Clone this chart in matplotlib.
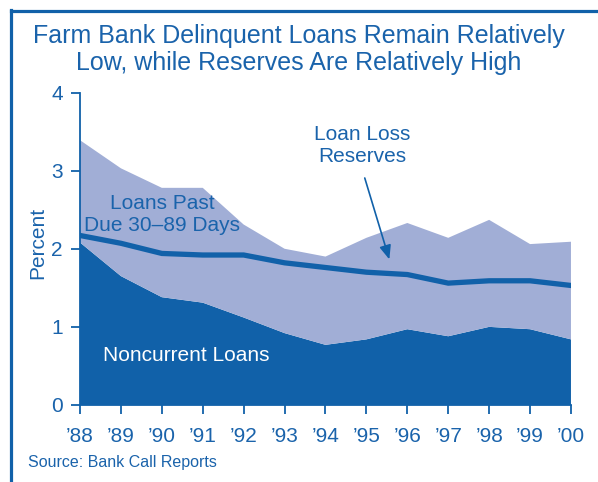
import numpy as np
import matplotlib.pyplot as plt
from matplotlib.lines import Line2D

plt.rcParams['font.family'] = ['Liberation Sans', 'DejaVu Sans']

years = ["\u201988", "\u201989", "\u201990", "\u201991", "\u201992", "\u201993", "\u201994",
         "\u201995", "\u201996", "\u201997", "\u201998", "\u201999", "\u201900"]
noncurrent = [2.08, 1.65, 1.38, 1.31, 1.12, 0.92, 0.77, 0.84, 0.97, 0.88, 1.00, 0.97, 0.84]
total_delinquent = [3.39, 3.03, 2.78, 2.78, 2.31, 2.00, 1.90, 2.14, 2.33, 2.14, 2.37, 2.06, 2.09]
past_due = [t - n for t, n in zip(total_delinquent, noncurrent)]
reserves = [2.17, 2.07, 1.94, 1.92, 1.92, 1.82, 1.76, 1.70, 1.67, 1.56, 1.59, 1.59, 1.53]

dark = '#1161a9'
light = '#a1aed6'
txt = '#1a63ab'

fig = plt.figure(figsize=(5.98, 4.82), dpi=100)
ax = fig.add_axes([0.1338, 0.1598, 0.8210, 0.6482])

x = np.arange(len(years))
ax.stackplot(x, noncurrent, past_due, colors=[dark, light], linewidth=0)
ax.plot(x, reserves, color=dark, lw=3.8, solid_joinstyle='miter')

ax.set_xlim(0, len(years) - 1)
ax.set_ylim(0, 4)
ax.set_xticks(x)
ax.set_xticklabels(years)
ax.set_yticks([0, 1, 2, 3, 4])
for s in ['top', 'right']:
    ax.spines[s].set_visible(False)
for s in ['left', 'bottom']:
    ax.spines[s].set_color(dark)
    ax.spines[s].set_linewidth(1.3)
ax.tick_params(colors=dark, labelcolor=txt, labelsize=15, length=6.5, width=1.3)
ax.tick_params(axis='x', pad=9)
ax.tick_params(axis='y', pad=6)
fig.text(37.5 / 598, 1 - 243 / 482, 'Percent', rotation=90, fontsize=15, color=txt,
         ha='center', va='center')

ax.text(2.6, 0.63, 'Noncurrent Loans', color='white', fontsize=15, ha='center', va='center')
ax.text(2.0, 2.44, 'Loans Past\nDue 30\u201389 Days', color=txt, fontsize=15,
        ha='center', va='center', linespacing=1.2)
ax.text(6.9, 3.32, 'Loan Loss\nReserves', color=txt, fontsize=15,
        ha='center', va='center', linespacing=1.2)
ax.annotate('', xy=(7.58, 1.83), xytext=(6.94, 2.94),
            arrowprops=dict(arrowstyle='-|>,head_length=0.6,head_width=0.25', color=dark,
                            lw=1.2, mutation_scale=14))

# two-line title, each line placed on its own baseline
fig.text(0.5, 1 - 42.5 / 482, 'Farm Bank Delinquent Loans Remain Relatively',
         color=txt, fontsize=18, ha='center', va='baseline')
fig.text(0.5, 1 - 70 / 482, 'Low, while Reserves Are Relatively High',
         color=txt, fontsize=18, ha='center', va='baseline')
fig.text(28 / 598, 1 - 463 / 482, 'Source: Bank Call Reports', color=txt, fontsize=11.5,
         ha='left', va='center')

# frame along the left and top edges
fig.add_artist(Line2D([10.5 / 598, 10.5 / 598], [0, 1 - 10 / 482], transform=fig.transFigure,
                      color=dark, lw=2.3, solid_capstyle='projecting'))
fig.add_artist(Line2D([10.5 / 598, 1], [1 - 10.5 / 482, 1 - 10.5 / 482], transform=fig.transFigure,
                      color=dark, lw=2.3, solid_capstyle='projecting'))

fig.savefig('out.png', dpi=100)
